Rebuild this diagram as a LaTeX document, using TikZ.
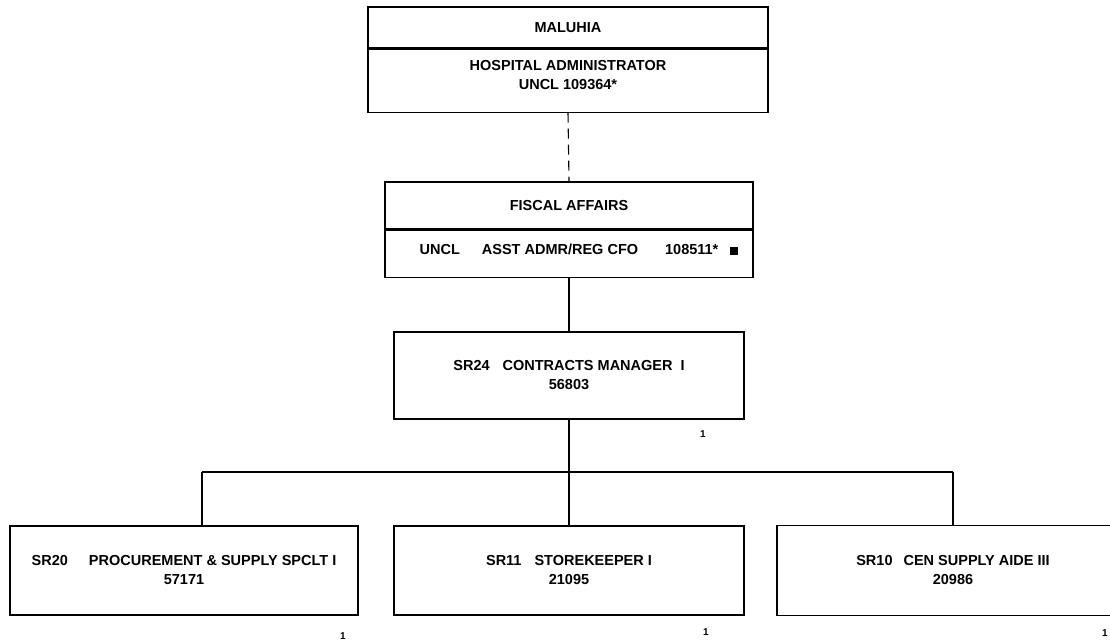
\documentclass[tikz,border=0pt]{standalone}
\usepackage{fontspec}
\setmainfont{Liberation Sans}
\usepackage{tikz}
\usetikzlibrary{positioning}

\begin{document}
\begin{tikzpicture}[x=1pt,y=-1pt,
  box/.style={draw=black,line width=1.1pt,inner sep=0pt,align=center,
    font=\fontsize{14.5}{19}\selectfont\bfseries},
  wire/.style={draw=black,line width=1.1pt},
  tick/.style={inner sep=0pt,font=\fontsize{10}{11}\selectfont\bfseries}]
\useasboundingbox (0,0) rectangle (1110,642);
% objects at depth 50:
\node[box,minimum width=400,minimum height=41] (unit) at (568,27.5) {MALUHIA};
\node[box,minimum width=400,minimum height=63,text depth=11pt,below=0pt of unit] (admin)
  {HOSPITAL ADMINISTRATOR\\UNCL 109364*};
\node[box,minimum width=368,minimum height=47] (fiscal) at (569,205.5) {FISCAL AFFAIRS};
\node[box,minimum width=368,minimum height=47,text depth=8pt,below=0pt of fiscal] (cfo)
  {\hspace*{20pt}UNCL\hspace{22pt}ASST ADMR/REG CFO\hspace{27pt}108511*\hspace{12pt}\rule{8pt}{8pt}};
\node[box,minimum width=350,minimum height=87] (mgr) at (569,375.5)
  {SR24\hspace{13pt}CONTRACTS MANAGER\hspace{8pt}I\\56803};
\node[box,minimum width=348,minimum height=89] (proc) at (184,570.5)
  {SR20\hspace{21pt}PROCUREMENT \& SUPPLY SPCLT I\\57171};
\node[box,minimum width=350,minimum height=89] (store) at (569,570.5)
  {SR11\hspace{13pt}STOREKEEPER I\\21095};
\node[box,minimum width=352,minimum height=90] (aide) at (953,570.5)
  {SR10\hspace{11pt}CEN SUPPLY AIDE III\\20986};
% objects at depth 40:
\coordinate (busl) at (202,472);
\coordinate (busr) at (aide.north |- busl);
\path[wire,dash pattern=on 10pt off 6pt] (admin.south) -- (fiscal.north);
\path[wire] (cfo.south) -- (mgr.north);
\path[wire] (mgr.south) -- (store.north);
\path[wire] (busl) -- (busr);
\path[wire] (busl) -- (busl |- proc.north);
\path[wire] (busr) -- (aide.north);
% objects at depth 30:
\node[tick] (n1) at (703,434) {1};
\node[tick] (n2) at (343,636) {1};
\node[tick] (n3) at (706,632) {1};
\node[tick] (n4) at (1105,633) {1};
\end{tikzpicture}
\end{document}
